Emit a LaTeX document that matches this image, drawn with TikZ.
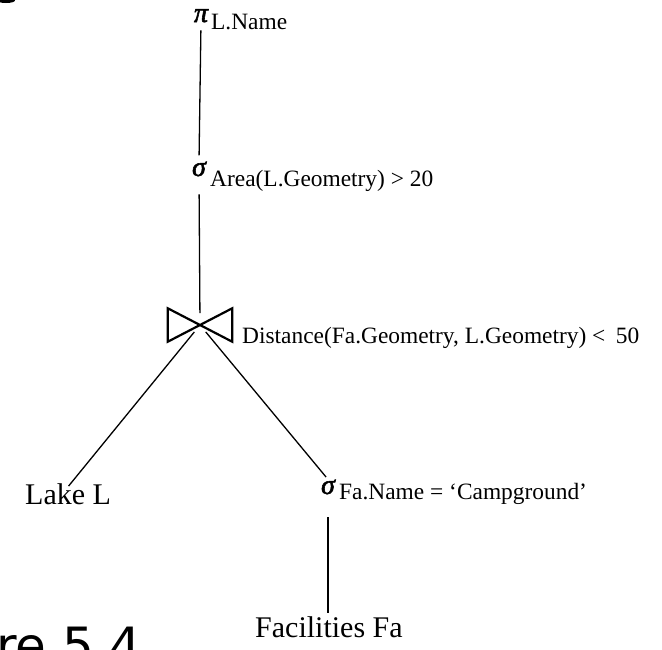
\documentclass[tikz,border=0pt]{standalone}
\usepackage{fontspec}
\setmainfont{Liberation Serif}
\newfontfamily\greekop[FakeBold=2]{Liberation Serif}
\newfontfamily\labelsans{DejaVu Sans}
\begin{document}
\begin{tikzpicture}[x=1pt,y=-1pt,
  op/.style={inner sep=0pt, anchor=base, font=\greekop\fontsize{28}{28}\selectfont\itshape},
  cond/.style={inner sep=0pt, anchor=base west, font=\fontsize{23.4}{24}\selectfont},
  rel/.style={inner sep=0pt, anchor=base west, font=\fontsize{30}{30}\selectfont},
  edge/.style={line width=1.3pt},
  joinsym/.style={line width=2.2pt, line join=miter}]
\useasboundingbox (0,0) rectangle (662,649);
\clip (0,0) rectangle (662,649);

% projection
\node[op] (proj) at (201,22) {π};
\node[cond] (projc) at (211,29) {L.Name};

% selection on area
\node[op] (sel) at (199,176) {σ};
\node[cond] (selc) at (210,186) {Area(L.Geometry) > 20};

% join symbol
\node[minimum width=64pt, minimum height=33pt, inner sep=0pt] (join) at (200,325) {};
\draw[joinsym] (join.north west) -- (join.south east) -- (join.north east)
  -- (join.south west) -- cycle;
\node[cond] (joinc) at (242,343) {Distance(Fa.Geometry, L.Geometry) <\hspace{0.45em}50};

% leaves and lower selection
\node[rel] (lake) at (25,504) {Lake L};
\node[op] (sel2) at (328,494) {σ};
\node[cond] (sel2c) at (339,499) {Fa.Name = ‘Campground’};
\node[rel] (fac) at (255,637) {Facilities Fa};

% tree edges
\draw[edge, shorten <=8pt, shorten >=6pt] (proj.south) -- (sel.north);
\draw[edge, shorten <=18pt, shorten >=12pt] (sel.south) -- (join.center);
\draw[edge, shorten <=9pt, shorten >=-4pt] (join.center) -- ([xshift=3pt]lake.north);
\draw[edge, shorten <=9pt, shorten >=3pt] (join.center) -- (sel2.north);
\draw[edge, shorten <=23pt, shorten >=3pt] (sel2.south) -- (sel2.south |- fac.north);

% caption fragment
\node[inner sep=0pt, anchor=base east, font=\labelsans\fontsize{50}{50}\selectfont]
  (caption) at (142,663) {re 5.4};
\fill (6,0.5) ellipse [x radius=9, y radius=2.5];
\end{tikzpicture}
\end{document}
